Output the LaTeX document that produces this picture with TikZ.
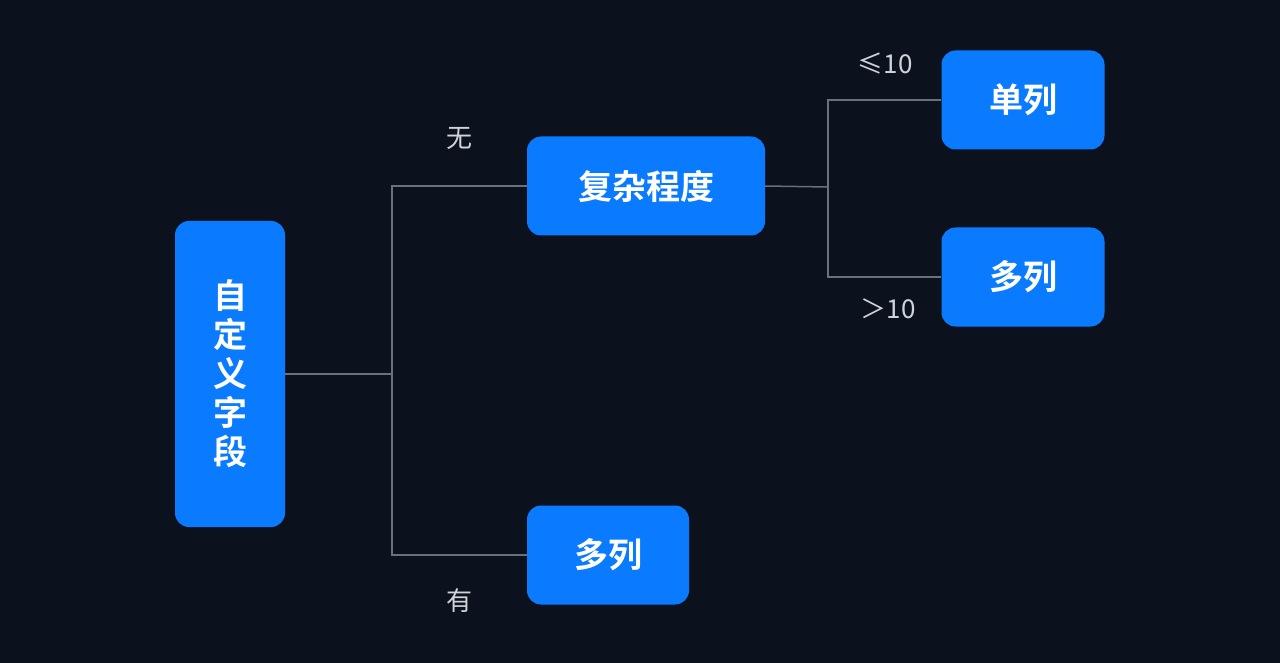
\documentclass[tikz,border=0pt]{standalone}
\usepackage{fontspec}
\newfontfamily\cjk{Noto Sans CJK SC}
\newfontfamily\cjkb{Noto Sans CJK SC Bold}
\usetikzlibrary{positioning}
\definecolor{bgc}{HTML}{0B111D}
\definecolor{boxc}{HTML}{0A7BFF}
\definecolor{linec}{HTML}{6B7079}
\definecolor{labc}{HTML}{D0D4DA}
\tikzset{
  box/.style={fill=boxc, rounded corners=14pt, text=white, font=\cjkb\fontsize{34}{40}\selectfont, inner sep=0pt},
  lab/.style={text=labc, font=\cjk\fontsize{26}{30}\selectfont},
  link/.style={draw=linec, line width=1.5pt}
}
\begin{document}
\begin{tikzpicture}[x=1pt, y=-1pt]
\fill[bgc] (0,0) rectangle (1280,663);
\useasboundingbox (0,0) rectangle (1280,663);
% boxes
\node[box, minimum width=110pt, minimum height=306pt, align=center, font=\cjkb\fontsize{34}{39}\selectfont] (field) at (230,374) {自\\定\\义\\字\\段};
\node[box, minimum width=238pt, minimum height=99pt] (complexity) at (646,186) {复杂程度};
\node[box, minimum width=162pt, minimum height=99pt] (multiA) at (608,555) {多列};
\node[box, minimum width=163pt, minimum height=99pt] (single) at (1023,100) {单列};
\node[box, minimum width=163pt, minimum height=99pt] (multiB) at (1023,277) {多列};
% connectors
\coordinate (j1) at (392,374);
\coordinate (j2) at (828,187);
\draw[link] (field.east) -- (j1);
\draw[link] (complexity.west) -| (j1) |- (multiA.west);
\draw[link] (complexity.east) -- (j2);
\draw[link] (single.west) -| (j2) |- (multiB.west);
% labels
\node[lab] (noLab) at (459,138) {无};
\node[lab] (yesLab) at (459,601) {有};
\node[lab] (leLab) at (885,64) {≤10};
\node[lab] (gtLab) at (888,309) {＞10};
\end{tikzpicture}
\end{document}
